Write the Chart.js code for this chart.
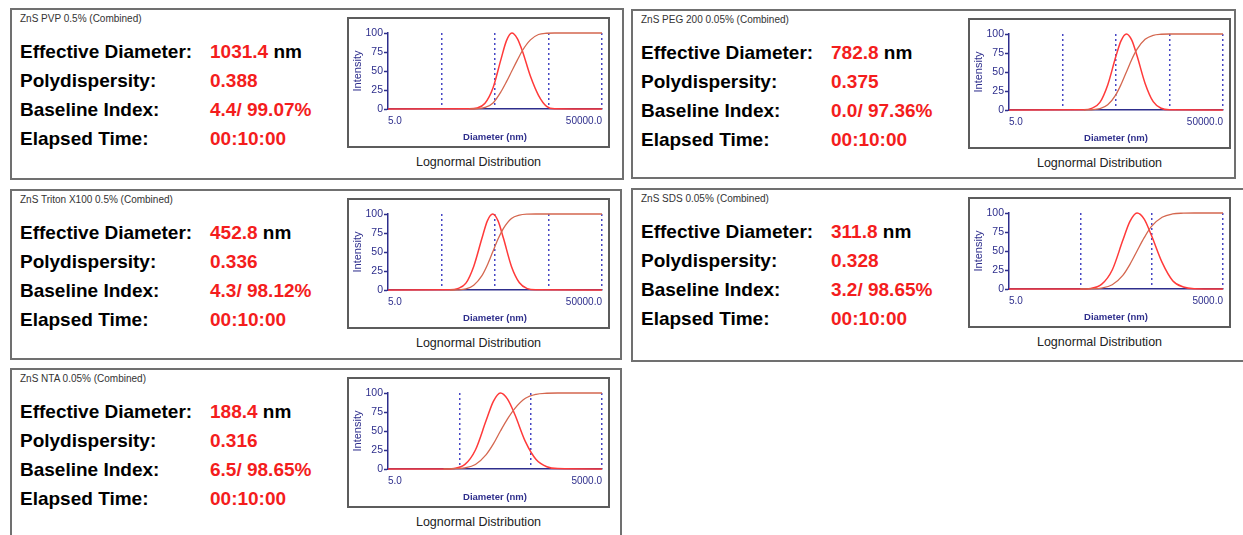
<!DOCTYPE html>
<html>
<head>
<meta charset="utf-8">
<script src="https://cdn.jsdelivr.net/npm/chart.js@4.4.1/dist/chart.umd.min.js"></script>
<style>
  body { margin: 0; width: 1243px; height: 535px; background: #fff; overflow: hidden; position: relative;
         font-family: "Liberation Sans", Arial, sans-serif; }
  .panel { position: absolute; border: 2px solid #707070; box-sizing: border-box; }
  .title { position: absolute; left: 8px; top: 4px; font-size: 10px; line-height: 1; color: #333; white-space: nowrap; }
  .row { position: absolute; left: 8px; font-size: 19px; font-weight: bold; line-height: 1; color: #000; white-space: nowrap; }
  .row .val { position: absolute; left: 190px; top: 0; color: #f41d1d; }
  .row .unit { color: #000; }
  .box { position: absolute; left: 335px; top: 7px; width: 263px; height: 131px; border: 2px solid #5c5c5c; box-sizing: border-box; background: #fff; }
  .box canvas { position: absolute; left: 0; top: 0; }
  .caption { position: absolute; left: 335px; top: 145px; width: 263px; text-align: center; font-size: 12.5px; line-height: 14px; color: #222; }
</style>
</head>
<body>
<script>
// Sample summaries
const sampleNames = ['ZnS PVP 0.5% (Combined)', 'ZnS PEG 200 0.05% (Combined)', 'ZnS Triton X100 0.5% (Combined)',
                     'ZnS SDS 0.05% (Combined)', 'ZnS NTA 0.05% (Combined)'];
const effectiveDiameter = [1031.4, 782.8, 452.8, 311.8, 188.4];
const polydispersity = ['0.388', '0.375', '0.336', '0.328', '0.316'];
const baselineIndex = ['4.4/ 99.07%', '0.0/ 97.36%', '4.3/ 98.12%', '3.2/ 98.65%', '6.5/ 98.65%'];
const elapsedTime = ['00:10:00', '00:10:00', '00:10:00', '00:10:00', '00:10:00'];

// Axis ranges (nm) and ticks
const diameterMin = 5;
const diameterMax = [50000, 50000, 50000, 5000, 5000];
const diameterTicks = [5, 50, 500, 5000, 50000];
const intensityTicks = [0, 25, 50, 75, 100];

// Lognormal distributions: diameter (nm), intensity (%) and cumulative (%)
const pvpDiameter = [165, 230, 325, 460, 650, 820, 1031.4, 1300, 1630, 2300, 3250, 4600, 6500];
const pvpIntensity = [0.2, 1.3, 7.6, 28, 66, 90, 100, 93, 76, 43, 18, 3.5, 0.3];
const pvpCumulative = [0, 0.3, 2, 8, 23, 36, 50, 64, 77, 91, 98, 99.7, 100];

const pegDiameter = [125, 175, 250, 350, 495, 620, 782.8, 985, 1240, 1750, 2480, 3500, 4950];
const pegIntensity = [0.3, 2.1, 10, 33, 70, 91, 100, 92, 71, 35, 11, 2.3, 0.3];
const pegCumulative = [0, 0.3, 1.7, 6.8, 20, 33.5, 50, 66.5, 80, 93, 98.3, 99.7, 100];

const tritonDiameter = [72, 100, 143, 200, 285, 360, 452.8, 570, 720, 1015, 1430, 2020, 2860];
const tritonIntensity = [0.2, 1.8, 9, 31, 68, 91, 100, 91, 68, 31, 9.5, 1.8, 0.2];
const tritonCumulative = [0, 0.2, 1.5, 6.4, 19, 33, 50, 67, 81, 94, 98.5, 99.8, 100];

const sdsDiameter = [50, 70, 99, 140, 197, 248, 311.8, 393, 494, 700, 985, 1390, 1970];
const sdsIntensity = [0.1, 0.8, 6, 25, 64, 89, 100, 92, 71, 35, 11, 2.6, 0.4];
const sdsCumulative = [0, 0.2, 1.2, 5.6, 18, 32.5, 50, 67.5, 82, 94.4, 98.8, 99.8, 100];

const ntaDiameter = [30, 42, 60, 84, 119, 150, 188.4, 237, 299, 422, 596, 841, 1190];
const ntaIntensity = [0.1, 0.8, 6, 25, 64, 89, 100, 92, 72, 36, 12.5, 3, 0.5];
const ntaCumulative = [0, 0.3, 1.5, 6, 19, 33, 50, 66, 79.5, 93, 98.3, 99.7, 100];

const curves = [
  [pvpDiameter, pvpIntensity, pvpCumulative],
  [pegDiameter, pegIntensity, pegCumulative],
  [tritonDiameter, tritonIntensity, tritonCumulative],
  [sdsDiameter, sdsIntensity, sdsCumulative],
  [ntaDiameter, ntaIntensity, ntaCumulative]
];

// Panel frames on the page: left, top, width, height
const panelFrames = [[10, 8, 614, 172], [631, 9, 605, 170], [10, 189, 612, 171], [631, 188, 640, 174], [10, 368, 612, 200]];

const AXIS_BLUE = '#2e2e8c';
const GRID_BLUE = '#4646c4';
const DIST_RED = '#ff3a3a';
const CUM_RED = '#d4674f';
const FONT = '"Liberation Sans", Arial, sans-serif';

function buildPanel(i) {
  const [left, top, width, height] = panelFrames[i];
  const panel = document.createElement('div');
  panel.className = 'panel';
  Object.assign(panel.style, { left: left + 'px', top: top + 'px', width: width + 'px', height: height + 'px' });

  const rows = [
    ['Effective Diameter:', effectiveDiameter[i].toFixed(1) + ' <span class="unit">nm</span>'],
    ['Polydispersity:', polydispersity[i]],
    ['Baseline Index:', baselineIndex[i]],
    ['Elapsed Time:', elapsedTime[i]]
  ];
  let html = '<div class="title">' + sampleNames[i] + '</div>';
  rows.forEach((r, k) => {
    html += '<div class="row" style="top:' + (31.5 + k * 29) + 'px">' + r[0] + '<span class="val">' + r[1] + '</span></div>';
  });
  html += '<div class="box"><canvas width="259" height="127"></canvas></div>';
  html += '<div class="caption">Lognormal Distribution</div>';
  panel.innerHTML = html;
  document.body.appendChild(panel);
  drawDistribution(panel.querySelector('canvas'), curves[i], diameterMax[i]);
}

function drawDistribution(canvas, curve, xMax) {
  const [diam, intensity, cumulative] = curve;
  const distPoints = [{ x: diameterMin, y: 0 }]
    .concat(diam.map((d, k) => ({ x: d, y: intensity[k] })))
    .concat([{ x: xMax, y: 0 }]);
  const cumPoints = diam.map((d, k) => ({ x: d, y: cumulative[k] }))
    .concat([{ x: xMax, y: 100 }]);

  new Chart(canvas, {
    type: 'line',
    data: {
      datasets: [
        { data: cumPoints, borderColor: CUM_RED, borderWidth: 1.3, pointRadius: 0,
          cubicInterpolationMode: 'monotone', clip: false, order: 0 },
        { data: distPoints, borderColor: DIST_RED, borderWidth: 1.5, pointRadius: 0,
          cubicInterpolationMode: 'monotone', clip: false, order: 1 }
      ]
    },
    options: {
      responsive: false,
      animation: false,
      events: [],
      layout: { padding: { top: 14, right: 2, left: 0, bottom: 0 } },
      plugins: { legend: { display: false }, tooltip: { enabled: false } },
      scales: {
        x: {
          type: 'logarithmic',
          min: diameterMin,
          max: xMax,
          afterBuildTicks: s => { s.ticks = diameterTicks.filter(v => v <= xMax).map(v => ({ value: v })); },
          afterFit: s => { s.height = 37; },
          grid: { color: c => c.index === 0 ? 'rgba(0,0,0,0)' : GRID_BLUE, lineWidth: 1.5, drawTicks: false },
          border: { color: AXIS_BLUE, width: 1.5, dash: [2, 3] },
          ticks: {
            align: 'inner', padding: 6, maxRotation: 0, autoSkip: false, color: AXIS_BLUE,
            font: { family: FONT, size: 10 },
            callback: (v, k, t) => (k === 0 || k === t.length - 1) ? Number(v).toFixed(1) : ''
          },
          title: { display: true, text: 'Diameter (nm)', color: AXIS_BLUE,
                   font: { family: FONT, size: 9.5, weight: 'bold' }, padding: { top: 0, bottom: 3 } }
        },
        y: {
          min: 0,
          max: 100,
          afterBuildTicks: s => { s.ticks = intensityTicks.map(v => ({ value: v })); },
          afterFit: s => { s.width = 39; },
          grid: { drawOnChartArea: false, tickLength: 4, tickColor: AXIS_BLUE, tickWidth: 1.5 },
          border: { color: AXIS_BLUE, width: 1.5 },
          ticks: { padding: 1, color: AXIS_BLUE, font: { family: FONT, size: 10.5 } },
          title: { display: true, text: 'Intensity', color: AXIS_BLUE,
                   font: { family: FONT, size: 11 }, padding: { top: 2, bottom: 0 } }
        }
      }
    }
  });
}

sampleNames.forEach((_, i) => buildPanel(i));
</script>
</body>
</html>
